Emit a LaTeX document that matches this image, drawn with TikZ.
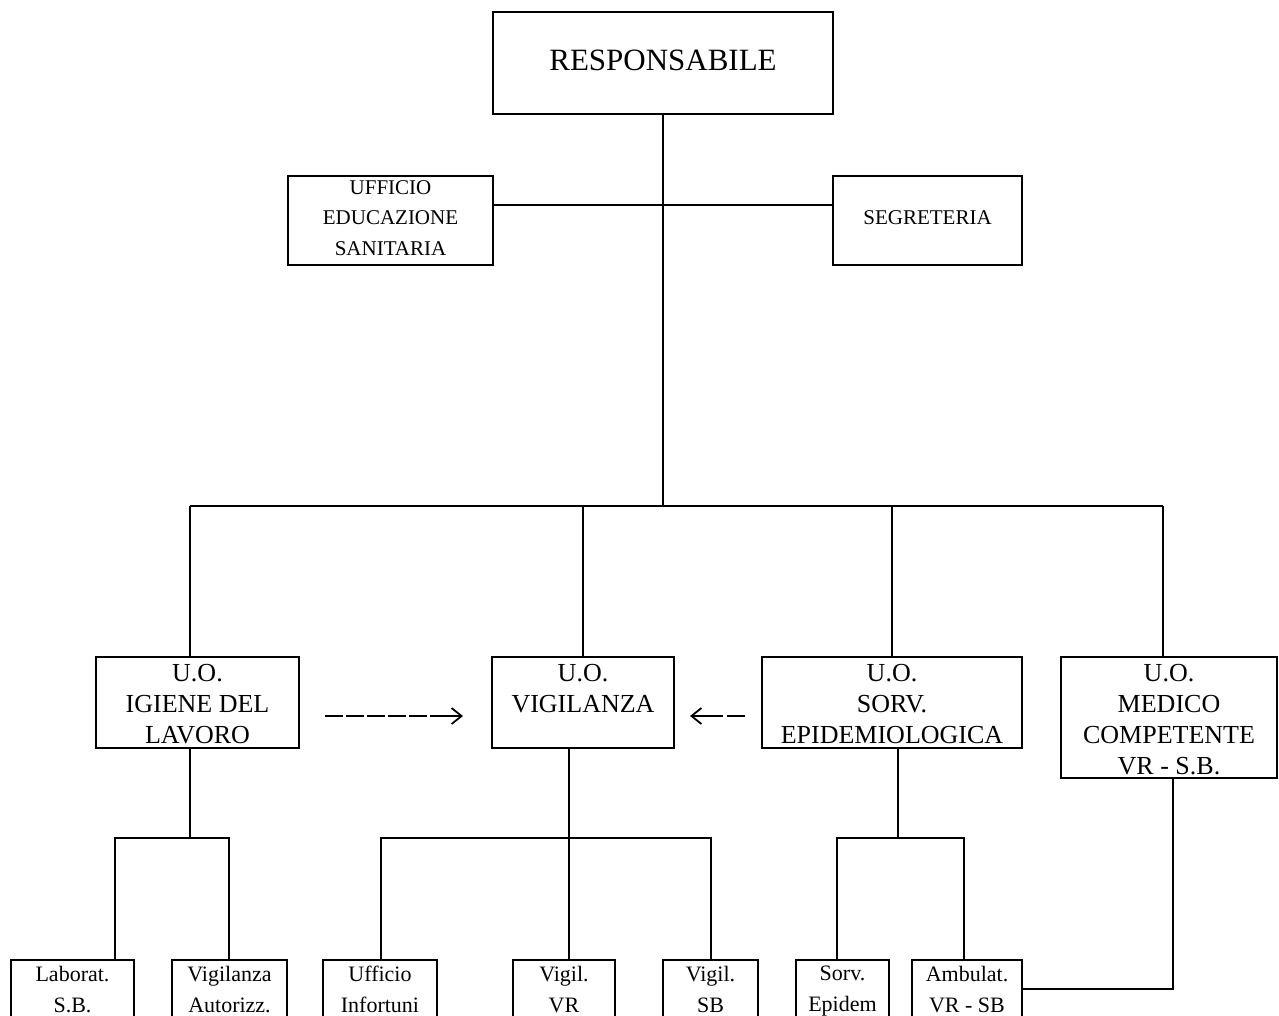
\documentclass[tikz,border=0pt]{standalone}
\usepackage{fontspec}
\setmainfont{Liberation Serif}
\usetikzlibrary{arrows.meta}
\begin{document}
\begin{tikzpicture}[x=1pt,y=-1pt,
  box/.style={draw, line width=1.2pt, inner sep=0pt, outer sep=0pt, anchor=north west},
  conn/.style={line width=1.1pt},
  big/.style={font=\fontsize{31}{36}\selectfont, inner sep=0pt},
  mid/.style={font=\fontsize{26}{31}\selectfont, align=center, inner sep=0pt, anchor=north},
  sml/.style={font=\fontsize{21}{30.5}\selectfont, align=center, inner sep=0pt, anchor=north},
  btm/.style={font=\fontsize{22}{31}\selectfont, align=center, inner sep=0pt, anchor=north},
  arr/.style={line width=1.8pt, -{Straight Barb[length=10pt,width=16pt]}}]
\useasboundingbox (0,0) rectangle (1279,1016);
\clip (0,0) rectangle (1279,1016);

% boxes
\node[box, minimum width=340pt, minimum height=102pt] (resp) at (493,12) {};
\node[box, minimum width=205pt, minimum height=89pt] (uff) at (288,176) {};
\node[box, minimum width=189pt, minimum height=89pt] (seg) at (833,176) {};
\node[box, minimum width=203pt, minimum height=91pt] (ig) at (96,657) {};
\node[box, minimum width=182pt, minimum height=91pt] (vig) at (492,657) {};
\node[box, minimum width=260pt, minimum height=91pt] (sorv) at (762,657) {};
\node[box, minimum width=216pt, minimum height=121pt] (med) at (1061,657) {};
\node[box, minimum width=123pt, minimum height=80pt] (lab) at (11,960) {};
\node[box, minimum width=115pt, minimum height=80pt] (vaut) at (172,960) {};
\node[box, minimum width=114pt, minimum height=80pt] (uinf) at (323,960) {};
\node[box, minimum width=102pt, minimum height=80pt] (vvr) at (513,960) {};
\node[box, minimum width=95pt, minimum height=80pt] (vsb) at (663,960) {};
\node[box, minimum width=93pt, minimum height=80pt] (sepi) at (796,960) {};
\node[box, minimum width=110pt, minimum height=80pt] (amb) at (912,960) {};

% texts
\node[big] (respT) at ([yshift=3pt]resp.center) {RESPONSABILE};
\node[sml] (uffT) at ([yshift=-4pt]uff.north) {UFFICIO\\EDUCAZIONE\\SANITARIA};
\node[font=\fontsize{21}{30.5}\selectfont, inner sep=0pt] (segT) at ([yshift=2.5pt]seg.center) {SEGRETERIA};
\node[mid] (igT) at ([yshift=-7pt]ig.north) {U.O.\\IGIENE DEL\\LAVORO};
\node[mid] (vigT) at ([yshift=-7pt]vig.north) {U.O.\\VIGILANZA};
\node[mid] (sorvT) at ([yshift=-7pt]sorv.north) {U.O.\\SORV.\\EPIDEMIOLOGICA};
\node[mid] (medT) at ([yshift=-7pt]med.north) {U.O.\\MEDICO\\COMPETENTE\\VR - S.B.};
\node[btm] (labT) at ([yshift=-6pt]lab.north) {Laborat.\\S.B.};
\node[btm] (vautT) at ([yshift=-6pt]vaut.north) {Vigilanza\\Autorizz.};
\node[btm] (uinfT) at ([yshift=-6pt]uinf.north) {Ufficio\\Infortuni};
\node[btm] (vvrT) at ([yshift=-6pt]vvr.north) {Vigil.\\VR};
\node[btm] (vsbT) at ([yshift=-6pt]vsb.north) {Vigil.\\SB};
\node[btm] (sepiT) at ([yshift=-6pt]sepi.north) {Sorv.\\Epidem};
\node[btm] (ambT) at ([yshift=-6pt]amb.north) {Ambulat.\\VR - SB};

% junction coordinates
\coordinate (j0) at (663,205);
\coordinate (j1) at (663,506);
\coordinate (d1) at (190,506);
\coordinate (d4) at (1163,506);
\coordinate (e1) at (190,838);
\coordinate (e2) at (569,838);
\coordinate (e3) at (898,838);
\coordinate (e4) at (1173,989);
\coordinate (b1) at (115,838);
\coordinate (b2) at (229,838);
\coordinate (b3) at (381,838);
\coordinate (b4) at (711,838);
\coordinate (b5) at (837,838);
\coordinate (b6) at (964,838);

% connectors
\draw[conn] (resp.south) -- (j1);
\draw[conn] (uff.east |- j0) -- (seg.west |- j0);
\draw[conn] (d1) -- (d4);
\draw[conn] (d1) -- (d1 |- ig.north);
\draw[conn] (vig.north) -- (vig.north |- j1);
\draw[conn] (sorv.north) -- (sorv.north |- j1);
\draw[conn] (d4) -- (d4 |- med.north);

\draw[conn] (ig.south -| e1) -- (e1);
\draw[conn] (b1 |- lab.north) -- (b1) -- (b2) -- (b2 |- vaut.north);
\draw[conn] (vig.south -| e2) -- (e2 |- vvr.north);
\draw[conn] (b3 |- uinf.north) -- (b3) -- (b4) -- (b4 |- vsb.north);
\draw[conn] (sorv.south -| e3) -- (e3);
\draw[conn] (b5 |- sepi.north) -- (b5) -- (b6) -- (b6 |- amb.north);
\draw[conn] (med.south -| e4) -- (e4) -- (amb.east |- e4);

% arrows
\draw[arr, dash pattern=on 18pt off 3pt on 18pt off 3pt on 18pt off 3pt on 18pt off 3pt on 18pt off 3pt on 80pt off 0pt, shorten <=26pt, shorten >=29pt] ([yshift=-13.5pt]ig.east) -- ([yshift=-13.5pt]vig.west);
\draw[arr, dash pattern=on 18pt off 4pt on 80pt off 0pt, shorten <=17pt, shorten >=16pt] ([yshift=-13.5pt]sorv.west) -- ([yshift=-13.5pt]vig.east);
\end{tikzpicture}
\end{document}
